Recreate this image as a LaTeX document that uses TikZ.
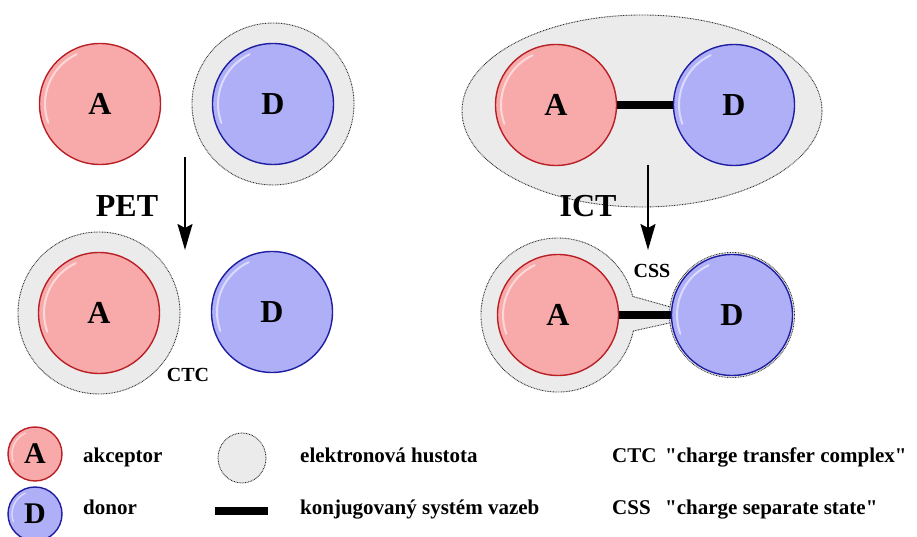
\documentclass[tikz,border=0pt]{standalone}
\usepackage{fontspec}
\setmainfont{Liberation Serif}[Ligatures=TeXOff]
\usetikzlibrary{arrows.meta}

\definecolor{accfill}{HTML}{F8AAAA}
\definecolor{accline}{HTML}{B82025}
\definecolor{donfill}{HTML}{AFAFF8}
\definecolor{donline}{HTML}{1E1EA0}
\definecolor{cloud}{HTML}{EBEBEB}

\tikzset{
  acc/.style={circle, draw=accline, fill=accfill, line width=1.4pt, minimum size=121pt,
    inner sep=0pt, font=\bfseries\fontsize{32}{32}\selectfont},
  don/.style={acc, draw=donline, fill=donfill},
  density/.style={fill=cloud, draw=gray!35!black, line width=0.9pt, dash pattern=on 0.8pt off 0.8pt},
  bond/.style={line width=8pt},
  react/.style={line width=2pt, -{Stealth[length=26pt,width=15pt,inset=4pt]}},
  legend/.style={anchor=base west, inner sep=0pt, font=\bfseries\fontsize{21}{24}\selectfont},
  glint/.style={white, opacity=.55, line width=2pt, line cap=round}
}

\begin{document}
\begin{tikzpicture}[x=1pt,y=1pt]

\useasboundingbox (0,0) rectangle (917,537);

% electron clouds
\draw[density] (273,433) circle (81);
\draw[density] (99,224) circle (81);
\draw[density] (642,426) ellipse (180 and 96);

% CSS cloud: round part + neck towards D
\fill[cloud] (558,222) circle (77);
\fill[cloud] (632.7,240.6) -- (674,229) -- (674,215) -- (633.3,206) -- cycle;
\draw[density, fill=none] (632.7,240.6) arc (14:348:77);
\draw[density, fill=none] (632.7,240.6) -- (674,229);
\draw[density, fill=none] (633.3,206) -- (674,215);
\draw[density] (732,222) circle (62.5);

% A and D
\node[acc] (a1) at (100,433) {A};
\node[don] (d1) at (273,433) {D};
\node[acc] (a2) at (99,224) {A};
\node[don] (d2) at (272,225) {D};
\node[acc] (a3) at (556,432) {A};
\node[don] (d3) at (734,432) {D};
\node[acc] (a4) at (558,222) {A};
\node[don] (d4) at (732,222) {D};

\foreach \n in {a1,d1,a2,d2,a3,d3,a4,d4}{
    \draw[glint] (\n.center) ++(115:55) arc (115:200:55);
}

% conjugated bonds
\draw[bond] (a3) -- (d3);
\draw[bond] (a4) -- (d4);

% reactions
\coordinate (pet1) at (185,380);
\coordinate (pet2) at (185,287);
\coordinate (ict1) at (648,372);
\coordinate (ict2) at (648,287);
\draw[react] (pet1) -- (pet2);
\draw[react] (ict1) -- (ict2);

\node[font=\bfseries\fontsize{32}{32}\selectfont] (pet) at (127,331) {PET};
\node[font=\bfseries\fontsize{32}{32}\selectfont] (ict) at (588,331) {ICT};
\node[font=\bfseries\fontsize{20}{20}\selectfont] (ctc) at (188,162) {CTC};
\node[font=\bfseries\fontsize{20}{20}\selectfont] (css) at (652,266) {CSS};

% legend
\node[acc, minimum width=54pt, minimum height=52pt, font=\bfseries\fontsize{30}{30}\selectfont] (la) at (35,83) {A};
\node[don, minimum width=54pt, minimum height=52pt, font=\bfseries\fontsize{30}{30}\selectfont] (ld) at (35,23) {D};
\foreach \n in {la,ld}{
    \draw[glint, line width=1.3pt] (\n.center) ++(115:23) arc (115:200:23);
}
\draw[density] (242,79) ellipse (24 and 25);
\coordinate (lb1) at (215,26);
\coordinate (lb2) at (268,26);
\draw[bond] (lb1) -- (lb2);

\node[legend] (t1) at (83,74) {akceptor};
\node[legend] (t2) at (83,22) {donor};
\node[legend] (t3) at (300,74) {elektronová hustota};
\node[legend] (t4) at (300,22) {konjugovaný systém vazeb};
\node[legend] (t5) at (612,74) {CTC};
\node[legend] (t6) at (665,74) {"charge transfer complex"};
\node[legend] (t7) at (612,22) {CSS};
\node[legend] (t8) at (665,22) {"charge separate state"};

\end{tikzpicture}
\end{document}
